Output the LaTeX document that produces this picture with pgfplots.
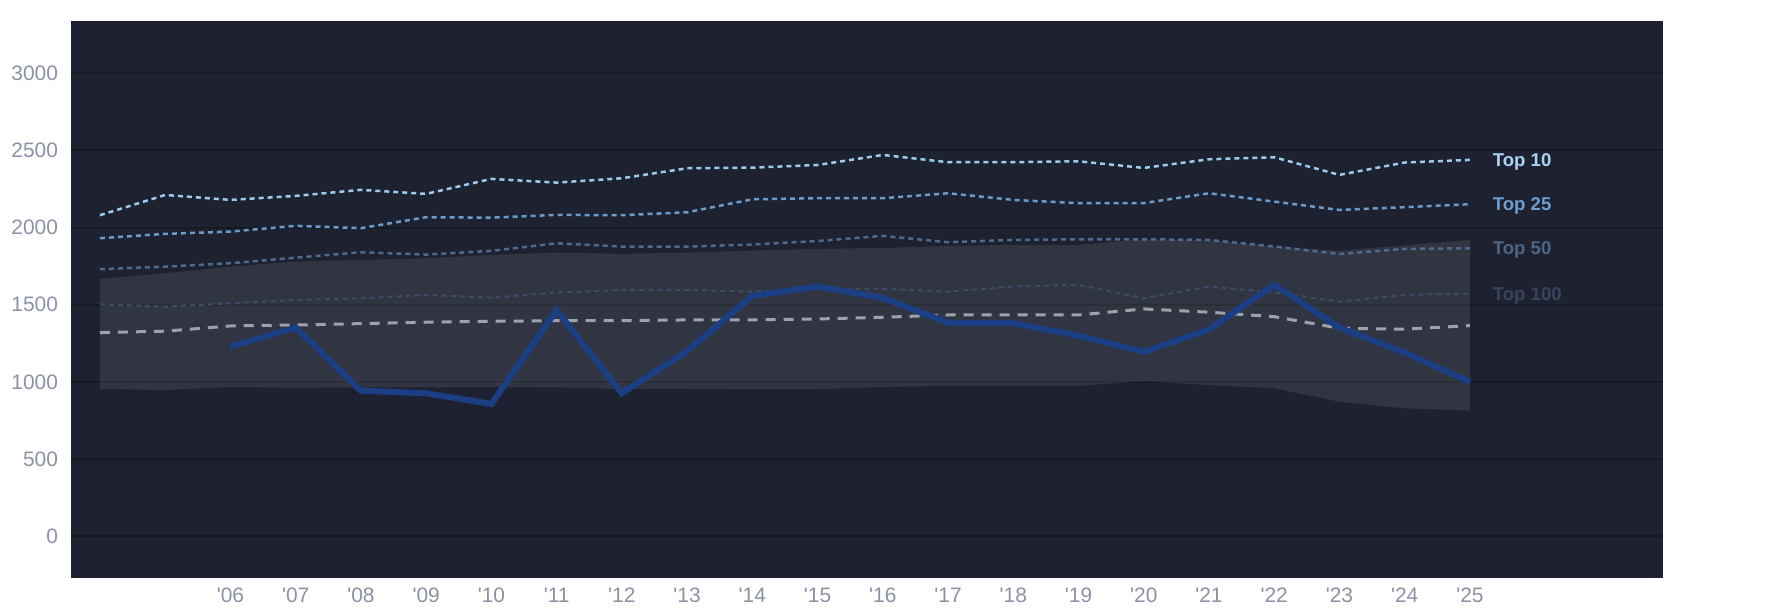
\documentclass[border=0pt]{standalone}
\usepackage{pgfplots}
\pgfplotsset{compat=1.18}
\usepackage{fontspec}
\setmainfont{Liberation Sans}
\definecolor{bg}{HTML}{1D2130}
\definecolor{gridc}{HTML}{161A23}
\definecolor{tickc}{HTML}{8A92A4}
\definecolor{ctop10}{HTML}{9DCBEE}
\definecolor{ctop25}{HTML}{6A9BCB}
\definecolor{ctop50}{HTML}{4F6A8E}
\definecolor{ctop100}{HTML}{3E4B66}
\definecolor{ltop10}{HTML}{A9D3F5}
\definecolor{ltop25}{HTML}{6E9FCF}
\definecolor{ltop50}{HTML}{4E6686}
\definecolor{ltop100}{HTML}{39445C}
\definecolor{cmed}{HTML}{9EA2AB}
\definecolor{cblue}{HTML}{1B3F85}
\begin{document}
\begin{tikzpicture}[x=1bp,y=1bp]
\fill[white] (0,0) rectangle (1785,614);
\path[use as bounding box] (0,0) rectangle (1785,614);
\begin{axis}[
  at={(71bp,36.3bp)}, anchor=south west, scale only axis,
  width=1592bp, height=557.1bp,
  xmin=2003.556, xmax=2027.96, ymin=-267, ymax=3340,
  axis background/.style={fill=bg},
  axis line style={draw=none},
  tick style={draw=none},
  ytick={0,500,1000,1500,2000,2500,3000},
  xtick={2006,2007,2008,2009,2010,2011,2012,2013,2014,2015,2016,2017,2018,2019,2020,2021,2022,2023,2024,2025},
  xticklabels={\textquotesingle06,\textquotesingle07,\textquotesingle08,\textquotesingle09,\textquotesingle10,\textquotesingle11,\textquotesingle12,\textquotesingle13,\textquotesingle14,\textquotesingle15,\textquotesingle16,\textquotesingle17,\textquotesingle18,\textquotesingle19,\textquotesingle20,\textquotesingle21,\textquotesingle22,\textquotesingle23,\textquotesingle24,\textquotesingle25},
  ymajorgrids, major grid style={draw=gridc, line width=2bp},
  ticklabel style={font=\fontsize{21}{24}\selectfont, text=tickc},
  xticklabel style={yshift=-7bp},
  yticklabel style={xshift=-9.5bp},
  /pgf/number format/assume math mode=true,
  /pgf/number format/1000 sep={},
  clip=false,
]
% band
\addplot[draw=none, fill=white, fill opacity=0.09] coordinates {
(2004,1667)(2005,1704)(2006,1747)(2007,1780)(2008,1790)(2009,1801)(2010,1823)(2011,1838)(2012,1829)(2013,1838)(2014,1851)(2015,1862)(2016,1868)(2017,1881)(2018,1888)(2019,1888)(2020,1924)(2021,1920)(2022,1877)(2023,1850)(2024,1885)(2025,1920)
(2025,815)(2024,830)(2023,872)(2022,960)(2021,980)(2020,1005)(2019,975)(2018,975)(2017,975)(2016,968)(2015,953)(2014,952)(2013,955)(2012,955)(2011,965)(2010,968)(2009,965)(2008,965)(2007,962)(2006,968)(2005,948)(2004,955)
} -- cycle;
% Top 100
\addplot[draw=ctop100, line width=2bp, dash pattern=on 5bp off 4bp] coordinates {
(2004,1503)(2005,1488)(2006,1510)(2007,1531)(2008,1542)(2009,1564)(2010,1546)(2011,1579)(2012,1596)(2013,1596)(2014,1585)(2015,1603)(2016,1604)(2017,1585)(2018,1618)(2019,1629)(2020,1542)(2021,1618)(2022,1579)(2023,1520)(2024,1564)(2025,1572)};
% Top 50
\addplot[draw=ctop50, line width=2.5bp, dash pattern=on 5bp off 4bp] coordinates {
(2004,1730)(2005,1747)(2006,1769)(2007,1805)(2008,1840)(2009,1825)(2010,1849)(2011,1898)(2012,1877)(2013,1877)(2014,1890)(2015,1913)(2016,1946)(2017,1905)(2018,1920)(2019,1924)(2020,1924)(2021,1920)(2022,1877)(2023,1829)(2024,1862)(2025,1866)};
% Top 25
\addplot[draw=ctop25, line width=2.5bp, dash pattern=on 5bp off 4bp] coordinates {
(2004,1931)(2005,1959)(2006,1974)(2007,2011)(2008,1996)(2009,2067)(2010,2064)(2011,2082)(2012,2080)(2013,2099)(2014,2183)(2015,2190)(2016,2190)(2017,2222)(2018,2179)(2019,2158)(2020,2158)(2021,2222)(2022,2168)(2023,2114)(2024,2132)(2025,2151)};
% Top 10
\addplot[draw=ctop10, line width=2.5bp, dash pattern=on 5bp off 4bp] coordinates {
(2004,2080)(2005,2211)(2006,2179)(2007,2205)(2008,2244)(2009,2218)(2010,2315)(2011,2291)(2012,2319)(2013,2384)(2014,2388)(2015,2405)(2016,2470)(2017,2423)(2018,2423)(2019,2429)(2020,2386)(2021,2442)(2022,2455)(2023,2341)(2024,2421)(2025,2438)};
% median
\addplot[draw=cmed, line width=3bp, dash pattern=on 10bp off 8bp] coordinates {
(2004,1320)(2005,1329)(2006,1363)(2007,1369)(2008,1378)(2009,1387)(2010,1393)(2011,1397)(2012,1397)(2013,1402)(2014,1402)(2015,1408)(2016,1419)(2017,1434)(2018,1434)(2019,1434)(2020,1473)(2021,1452)(2022,1423)(2023,1348)(2024,1342)(2025,1365)};
% blue
\addplot[draw=cblue, line width=6bp] coordinates {
(2006,1229)(2007,1352)(2008,944)(2009,927)(2010,858)(2011,1465)(2012,927)(2013,1200)(2014,1557)(2015,1618)(2016,1545)(2017,1384)(2018,1381)(2019,1300)(2020,1195)(2021,1340)(2022,1629)(2023,1352)(2024,1190)(2025,1000)};
% labels
\node[anchor=base west, inner sep=0, yshift=-6.7bp, text=ltop10, font=\fontsize{18.6}{22}\selectfont\bfseries] at (axis cs:2025.35,2438) {Top 10};
\node[anchor=base west, inner sep=0, yshift=-6.7bp, text=ltop25, font=\fontsize{18.6}{22}\selectfont\bfseries] at (axis cs:2025.35,2151) {Top 25};
\node[anchor=base west, inner sep=0, yshift=-6.7bp, text=ltop50, font=\fontsize{18.6}{22}\selectfont\bfseries] at (axis cs:2025.35,1866) {Top 50};
\node[anchor=base west, inner sep=0, yshift=-6.7bp, text=ltop100, font=\fontsize{18.6}{22}\selectfont\bfseries] at (axis cs:2025.35,1572) {Top 100};
\end{axis}
\end{tikzpicture}
\end{document}
